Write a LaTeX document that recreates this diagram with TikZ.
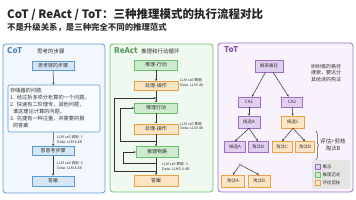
\documentclass[tikz,border=0pt]{standalone}
\usepackage{fontspec}
\setmainfont{Noto Sans CJK SC}
\usetikzlibrary{arrows.meta,decorations.pathreplacing}
\definecolor{cotB}{HTML}{5B9BD5}
\definecolor{cotF}{HTML}{F1F7FD}
\definecolor{cotBox}{HTML}{D6E6F7}
\definecolor{reG}{HTML}{6CC070}
\definecolor{reF}{HTML}{F0F9F0}
\definecolor{reBox}{HTML}{CDECCD}
\definecolor{orB}{HTML}{E9A048}
\definecolor{orF}{HTML}{FDE5C4}
\definecolor{puB}{HTML}{9C6FC4}
\definecolor{puF}{HTML}{F8F2FC}
\definecolor{puBox}{HTML}{E2CFF0}
\definecolor{txt}{HTML}{333333}
\tikzset{
  panel/.style={draw, line width=0.8pt, rounded corners=3pt},
  ptitle/.style={anchor=west, font=\fontsize{8}{9}\selectfont\bfseries, inner sep=0pt},
  phdr/.style={anchor=west, font=\fontsize{5.5}{6}\selectfont, text=txt, inner sep=0pt},
  bluebox/.style={draw=cotB, fill=cotBox, line width=0.6pt, minimum width=42pt, minimum height=9pt, inner sep=0pt, font=\fontsize{5}{6}\selectfont, text=txt},
  greenbox/.style={draw=reG, fill=reBox, line width=0.6pt, minimum width=43pt, minimum height=10pt, inner sep=0pt, font=\fontsize{5}{6}\selectfont, text=txt},
  orbox/.style={draw=orB, fill=orF, line width=0.6pt, minimum width=44pt, minimum height=10pt, inner sep=0pt, font=\fontsize{5}{6}\selectfont, text=txt},
  pubox/.style={draw=puB, fill=puBox, line width=0.6pt, minimum width=22pt, minimum height=11pt, inner sep=0pt, font=\fontsize{4.5}{5}\selectfont, text=txt},
  torbox/.style={draw=orB, fill=orF, line width=0.6pt, minimum width=22pt, minimum height=11pt, inner sep=0pt, font=\fontsize{4.5}{5}\selectfont, text=txt},
  small/.style={anchor=west, align=left, font=\fontsize{3.6}{4.6}\selectfont, text=txt, inner sep=0pt},
  arr/.style={-{Stealth[length=2.2pt,width=2pt]}, line width=0.5pt, draw=black!80},
}
\begin{document}
\begin{tikzpicture}[x=1pt,y=-1pt]
\useasboundingbox (0,0) rectangle (356,200);
\fill[white] (0,0) rectangle (356,200);
% titles
\node[anchor=west, inner sep=0pt, font=\fontsize{11.5}{12}\selectfont\bfseries, text=black!85] (title) at (7,15) {CoT / ReAct / ToT：三种推理模式的执行流程对比};
\node[anchor=west, inner sep=0pt, font=\fontsize{8.4}{9}\selectfont\bfseries, text=black!80] (sub) at (7,28) {不是升级关系，是三种完全不同的推理范式};

% ---------- CoT ----------
\draw[panel, draw=cotB, fill=cotF] (3,44) rectangle (105,193);
\node[ptitle, text=cotB!85!black] (cotl) at (7,51) {CoT};
\node[phdr] (coth) at (37,51) {思考的步骤};
\node[bluebox] (c1) at (53,66) {思考链的步骤};
\node[draw=cotB, fill=white!60!cotF, line width=0.6pt, rounded corners=2pt, minimum width=92pt, minimum height=47pt, text width=88pt, inner sep=2pt, align=left, font=\fontsize{5.2}{7}\selectfont, text=txt] (c2) at (54,108.5) {存储器的问题:\\1. 经过拆多项分析算的一个问题。\\2. 快速有二阶理专，其他问题，\\\hspace*{3pt}谁这理论计算的问题。\\3. 先捷有一种注量，并需要的报\\\hspace*{3pt}的答案};
\node[bluebox] (c3) at (53,151) {思思考步骤};
\node[bluebox, minimum height=10pt] (c4) at (53,181) {答案};
\draw[arr] (c1) -- (c2);
\draw[arr] (c2) -- (c3);
\draw[arr] (c3) -- (c4);
\node[small] (cl1) at (57,139.5) {LLM call 调用: 1\\Data: LLM 4.4B};
\node[small] (cl2) at (57,165.5) {LLM call 调用: 2\\Data: LLM 4.4B};

% ---------- ReAct ----------
\draw[panel, draw=reG, fill=reF] (110,44) rectangle (213,192);
\node[ptitle, text=reG!80!black] (rel) at (114,51) {ReAct};
\node[phdr] (reh) at (141,51) {推理和行动循环};
\node[greenbox] (r1) at (156,65) {推理-行动};
\node[orbox, minimum height=9pt] (r2) at (156,86) {处理-操作};
\node[greenbox, minimum height=10pt] (r3) at (156,108) {推理行动};
\node[orbox] (r4) at (156,129) {处理-操作};
\node[greenbox, minimum width=42pt, minimum height=11pt] (r5) at (157,152) {推理物路};
\node[orbox, minimum height=11pt] (r6) at (156,181) {答案};
\draw[arr] (r1) -- (r2);
\draw[arr] (r2) -- (r3);
\draw[arr] (r3) -- (r4);
\draw[arr] (r4.south) -- (r4.south |- r5.north);
\draw[arr] (r5.south -| r4.south) -- (r6.north -| r4.south);
\coordinate (o1) at (156,171);
\coordinate (o2) at (156,98);
\coordinate (m1) at (156,141);
\coordinate (s1) at (156,163);
\draw[arr] (o1) -- (114,171) -- (114,98) -- (o2);
\draw[arr] (m1) -- (120,141) -- (120,108) -- (r3.west);
\draw[arr] (s1) -- (123,163) -- (123,152) -- (r5.west);
\node[small] (rl1) at (180,82.5) {LLM call 数据:\\Data: LL39-4b};
\node[small] (rl2) at (180,126) {LLM call 数据\\Data: LL30-4b};
\node[small] (rl3) at (162,166.5) {LLM call 数据: 3\\Data: LLHD 4-4B};

% ---------- ToT ----------
\draw[panel, draw=puB, fill=puF] (218,43) rectangle (353,192);
\node[ptitle, text=puB!80!black] (totl) at (224,50) {ToT};
\node[pubox, minimum width=28pt, minimum height=12pt] (t0) at (269,66) {概率路径};
\node[anchor=center, align=left, inner sep=0pt, font=\fontsize{5}{6.8}\selectfont, text=txt] (tnote) at (326,73) {树树框的格径\\搜索，要达分\\其给述的构法};
\node[pubox, minimum height=10pt] (t1) at (249,102) {CA1};
\node[pubox, minimum width=21pt, minimum height=10pt] (t2) at (292,102) {CA2};
\node[pubox, minimum height=12pt] (t3) at (249,122) {候选A};
\node[torbox, minimum width=23pt, minimum height=12pt] (t4) at (293,122) {候选C};
\node[pubox, minimum width=21pt] (t5) at (235,147) {候选A};
\node[pubox, minimum width=20pt] (t6) at (258,147) {淘汰B};
\node[torbox, minimum width=20pt] (t7) at (282,147) {淘汰C};
\node[torbox, minimum width=19pt] (t8) at (305,147) {淘汰B};
\node[inner sep=0pt, font=\fontsize{5}{5}\selectfont, text=txt] (t9) at (240,164) {...};
\node[torbox, minimum width=23pt, minimum height=12pt] (t10) at (233,181) {淘汰A};
\node[torbox, minimum width=22pt, minimum height=12pt] (t11) at (259,181) {淘汰B};
\draw[arr] (t0) -- (t1);
\draw[arr] (t0) -- (t2);
\draw[arr] (t1) -- (t3);
\draw[arr] (t2) -- (t4);
\draw[arr] (t3.south) -- (t5.north);
\draw[arr] (t3.south) -- (t6.north);
\draw[arr] (t4.south) -- (t7.north);
\draw[arr] (t4.south) -- (t8.north);
\draw[arr] (t9.south) -- (t10.north);
\draw[arr] (t9.south) -- (t11.north);
\draw[decorate, decoration={brace, amplitude=2.5pt}, line width=0.5pt, draw=black!70] (316,131) -- (316,160);
\node[anchor=west, align=center, inner sep=0pt, font=\fontsize{5.6}{7}\selectfont, text=txt] (tbr) at (320,145) {评估+剪枝\\淘汰B};
% legend
\draw[rounded corners=2pt, fill=black!10, draw=none] (312,160) rectangle (350,189);
\node[draw=puB, fill=puBox, line width=0.5pt, minimum size=5pt, inner sep=0pt] (lg1) at (318,167) {};
\node[draw=reG, fill=reBox, line width=0.5pt, minimum size=5pt, inner sep=0pt] (lg2) at (318,175) {};
\node[draw=orB, fill=orF, line width=0.5pt, minimum size=5pt, inner sep=0pt] (lg3) at (318,183) {};
\node[anchor=west, inner sep=0pt, font=\fontsize{4.4}{5}\selectfont, text=txt] (lt1) at (322.5,167) {概念};
\node[anchor=west, inner sep=0pt, font=\fontsize{4.4}{5}\selectfont, text=txt] (lt2) at (322.5,175) {推理范式};
\node[anchor=west, inner sep=0pt, font=\fontsize{4.4}{5}\selectfont, text=txt] (lt3) at (322.5,183) {评估剪枝};
\end{tikzpicture}
\end{document}
